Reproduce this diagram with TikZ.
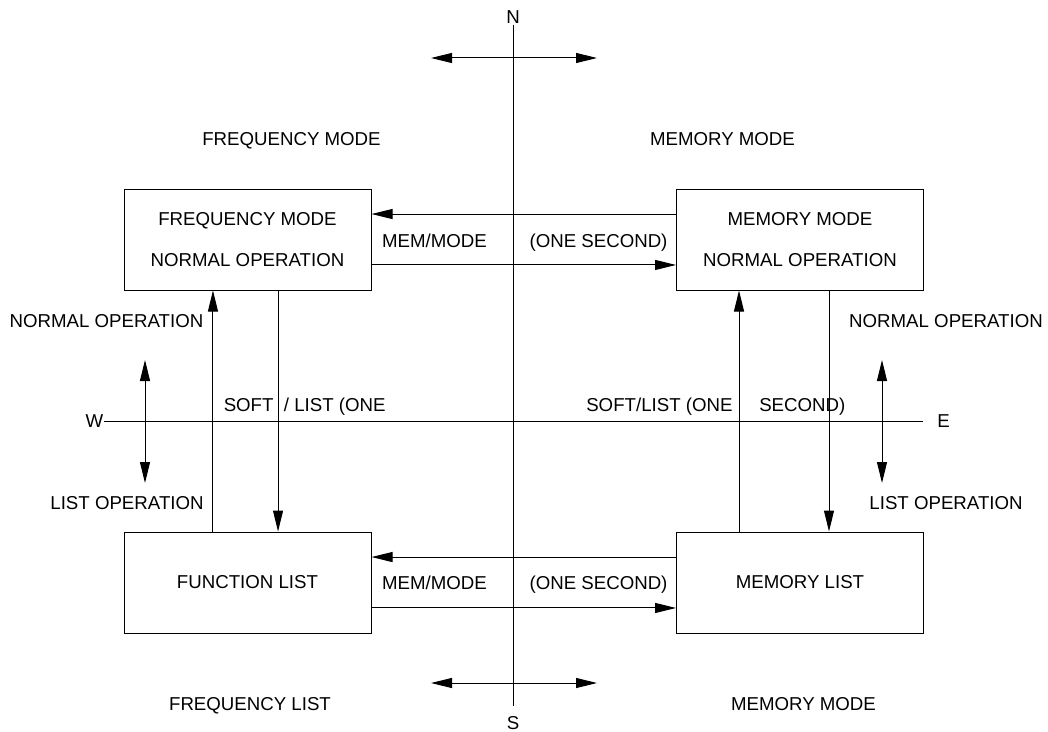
\documentclass[tikz,border=0pt]{standalone}
\usepackage{fontspec}
\setmainfont{Liberation Sans}
\usetikzlibrary{arrows.meta,calc}
\begin{document}
\begin{tikzpicture}[x=0.75pt,y=-0.75pt,
  txt/.style={font=\fontsize{14}{16}\selectfont, inner sep=0pt, anchor=base},
  box/.style={draw, line width=0.75pt, minimum width=185.25pt, minimum height=75.75pt, inner sep=0pt, align=center, font=\fontsize{14}{30.75}\selectfont},
  ln/.style={line width=0.75pt},
  arr/.style={line width=0.75pt, -{Triangle[length=15.75pt,width=7.5pt]}},
  darr/.style={line width=0.75pt, {Triangle[length=15.75pt,width=7.5pt]}-{Triangle[length=15.75pt,width=7.5pt]}}
]
\useasboundingbox (0,0) rectangle (1048,731);

% compass
\node[txt] (N) at (513,23.7) {N};
\node[txt] (S) at (513,729) {S};
\node[txt] (W) at (94.5,427.7) {W};
\node[txt] (E) at (943.5,427.7) {E};
\coordinate (n0) at (513,25);
\coordinate (s0) at (513,706);
\coordinate (w0) at (104,421);
\coordinate (e0) at (923,421);
\draw[ln] (n0) -- (s0);
\draw[ln] (w0) -- (e0);

\coordinate (tl) at (431,58); \coordinate (tr) at (597,58);
\coordinate (bl) at (431,683); \coordinate (br) at (597,683);
\draw[darr] (tl) -- (tr);
\draw[darr] (bl) -- (br);
\coordinate (lu) at (145,360); \coordinate (ld) at (145,483);
\coordinate (ru) at (882,360); \coordinate (rd) at (882,483);
\draw[darr] (lu) -- (ld);
\draw[darr] (ru) -- (rd);

% boxes
\node[box] (FM) at (247.5,239.5) {FREQUENCY MODE\\NORMAL OPERATION};
\node[box] (MM) at (800,239.5) {MEMORY MODE\\NORMAL OPERATION};
\node[box] (FL) at (247.5,582.5) {FUNCTION LIST};
\node[box] (ML) at (800,582.5) {MEMORY LIST};

% horizontal connectors
\draw[arr] ([yshift=19.1pt]MM.west) -- ([yshift=19.1pt]FM.east);
\draw[arr] ([yshift=-19.1pt]FM.east) -- ([yshift=-19.1pt]MM.west);
\draw[arr] ([yshift=19.1pt]ML.west) -- ([yshift=19.1pt]FL.east);
\draw[arr] ([yshift=-19.1pt]FL.east) -- ([yshift=-19.1pt]ML.west);

% vertical connectors
\draw[arr] ([xshift=-25.9pt]FL.north) -- ([xshift=-25.9pt]FM.south);
\draw[arr] ([xshift=22.9pt]FM.south) -- ([xshift=22.9pt]FL.north);
\draw[arr] ([xshift=-45.75pt]ML.north) -- ([xshift=-45.75pt]MM.south);
\draw[arr] ([xshift=21.75pt]MM.south) -- ([xshift=21.75pt]ML.north);

% labels
\node[txt] (l1) at (434.5,247) {MEM/MODE};
\node[txt] (l2) at (598.5,247) {(ONE SECOND)};
\node[txt] (l3) at (434.5,589) {MEM/MODE};
\node[txt] (l4) at (598.5,589) {(ONE SECOND)};
\node[txt,anchor=base west] (l5) at (223.5,411) {SOFT\ \ / LIST (ONE};
\node[txt,anchor=base west] (l6) at (586,411) {SOFT/LIST (ONE};
\node[txt,anchor=base west] (l7) at (759,411) {SECOND)};
\node[txt] (l8) at (106.5,327.7) {NORMAL OPERATION};
\node[txt] (l9) at (127,509.2) {LIST OPERATION};
\node[txt] (l10) at (946,327.7) {NORMAL OPERATION};
\node[txt] (l11) at (946,509.2) {LIST OPERATION};
\node[txt] (l12) at (291.5,145.7) {FREQUENCY MODE};
\node[txt] (l13) at (722.5,145.7) {MEMORY MODE};
\node[txt] (l14) at (250,710.7) {FREQUENCY LIST};
\node[txt] (l15) at (803.5,710.7) {MEMORY MODE};
\end{tikzpicture}
\end{document}
